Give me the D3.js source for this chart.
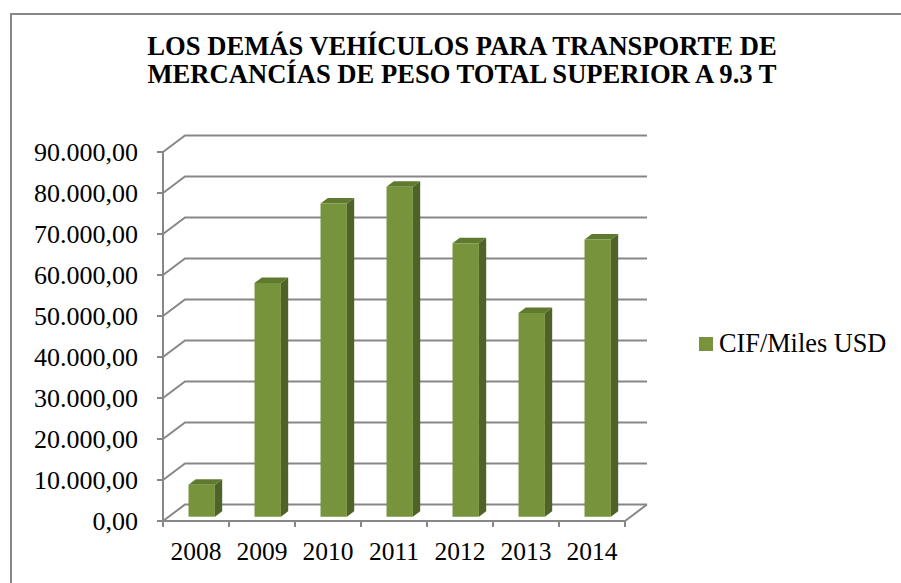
<!DOCTYPE html>
<html>
<head>
<meta charset="utf-8">
<script src="https://cdn.jsdelivr.net/npm/d3@7"></script>
<style>
  body { margin: 0; background: #fff; }
</style>
</head>
<body>
<div id="chart"></div>
<script>
// data
const years = ["2008", "2009", "2010", "2011", "2012", "2013", "2014"];
const cifValues = [7800, 57000, 76400, 80500, 66700, 49700, 67600];
const yTicks = [0, 10000, 20000, 30000, 40000, 50000, 60000, 70000, 80000, 90000];
const titleLines = ["LOS DEMÁS VEHÍCULOS PARA TRANSPORTE DE", "MERCANCÍAS DE PESO TOTAL SUPERIOR A 9.3 T"];
const seriesName = "CIF/Miles USD";

const width = 901, height = 583;
const fontFamily = "'Liberation Serif', 'Times New Roman', Times, serif";
const depthX = 22, depthY = -16.5;      // 3d offset of the back wall
const barFront = 0.26, barBack = 0.59;  // bar depth as fraction of the floor
const gridColor = "#878787";
const colFront = "#77933c", colTop = "#5f7a2e", colSide = "#4f6228";

const svg = d3.select("#chart").append("svg")
    .attr("width", width)
    .attr("height", height)
    .attr("font-family", fontFamily);

// chart border (right and bottom edges fall outside the picture)
svg.append("rect")
    .attr("x", 11).attr("y", 14)
    .attr("width", 1200).attr("height", 800)
    .attr("fill", "none")
    .attr("stroke", gridColor)
    .attr("stroke-width", 2);

const xScale = d3.scaleBand().domain(years).range([163, 625])
    .paddingInner(0.6).paddingOuter(0.3);
const yScale = d3.scaleLinear().domain([0, 90000]).range([521, 152]);

const fmt = v => d3.format(",.2f")(v).replace(/,/g, "X").replace(/\./g, ",").replace(/X/g, ".");

// gridlines on the back wall, with the diagonal on the side wall
const x0 = xScale.range()[0], x1 = xScale.range()[1];
const grid = svg.append("g").attr("class", "grid")
    .attr("fill", "none").attr("stroke", gridColor).attr("stroke-width", 2);

grid.selectAll("path.gridLine")
    .data(yTicks)
    .join("path")
    .attr("class", "gridLine")
    .attr("d", v => {
        const y = yScale(v);
        return "M" + x0 + "," + y + "L" + (x0 + depthX) + "," + (y + depthY) + "H" + (x1 + depthX);
    });

// floor front edge and right edge
grid.append("path")
    .attr("d", "M" + x0 + "," + yScale(0) + "H" + x1 + "L" + (x1 + depthX) + "," + (yScale(0) + depthY));

// front value axis
grid.append("path")
    .attr("d", "M" + x0 + "," + yScale(90000) + "V" + yScale(0));

grid.selectAll("path.yTick")
    .data(yTicks)
    .join("path")
    .attr("class", "yTick")
    .attr("d", v => "M" + (x0 - 6) + "," + yScale(v) + "H" + x0);

const xEdges = d3.range(years.length + 1).map(i => x0 + i * xScale.step());
grid.selectAll("path.xTick")
    .data(xEdges)
    .join("path")
    .attr("class", "xTick")
    .attr("d", x => "M" + x + "," + yScale(0) + "V" + (yScale(0) + 6));

// axis labels
svg.append("g").selectAll("text")
    .data(yTicks)
    .join("text")
    .attr("x", 138)
    .attr("y", v => yScale(v))
    .attr("dy", "0.34em")
    .attr("text-anchor", "end")
    .attr("font-size", 26)
    .text(fmt);

svg.append("g").selectAll("text")
    .data(years)
    .join("text")
    .attr("x", (d, i) => x0 + (i + 0.5) * xScale.step())
    .attr("y", 560)
    .attr("text-anchor", "middle")
    .attr("font-size", 25.5)
    .text(d => d);

// bars: side, top, front
const bars = svg.append("g").selectAll("g.bar")
    .data(years.map((y, i) => ({year: y, value: cifValues[i]})))
    .join("g")
    .attr("class", "bar");

const pt = (x, v, f) => [x + f * depthX, yScale(v) + f * depthY];

bars.append("path")
    .attr("fill", colSide)
    .attr("d", d => {
        const xr = xScale(d.year) + xScale.bandwidth();
        return "M" + [pt(xr, 0, barFront), pt(xr, 0, barBack), pt(xr, d.value, barBack), pt(xr, d.value, barFront)].join("L") + "Z";
    });

bars.append("path")
    .attr("fill", colTop)
    .attr("d", d => {
        const xl = xScale(d.year), xr = xl + xScale.bandwidth();
        return "M" + [pt(xl, d.value, barFront), pt(xl, d.value, barBack), pt(xr, d.value, barBack), pt(xr, d.value, barFront)].join("L") + "Z";
    });

bars.append("path")
    .attr("fill", colFront)
    .attr("d", d => {
        const xl = xScale(d.year), xr = xl + xScale.bandwidth();
        return "M" + [pt(xl, 0, barFront), pt(xl, d.value, barFront), pt(xr, d.value, barFront), pt(xr, 0, barFront)].join("L") + "Z";
    });

// title
svg.append("g").selectAll("text")
    .data(titleLines)
    .join("text")
    .attr("x", 462)
    .attr("y", (d, i) => 55 + i * 27.5)
    .attr("text-anchor", "middle")
    .attr("font-size", 26.6)
    .attr("font-weight", "bold")
    .text(d => d);

// legend
const legend = svg.append("g").attr("transform", "translate(699,337)");
legend.append("rect")
    .attr("width", 14).attr("height", 14)
    .attr("fill", colFront);
legend.append("text")
    .attr("x", 20).attr("y", 15)
    .attr("font-size", 26.3)
    .text(seriesName);
</script>
</body>
</html>
